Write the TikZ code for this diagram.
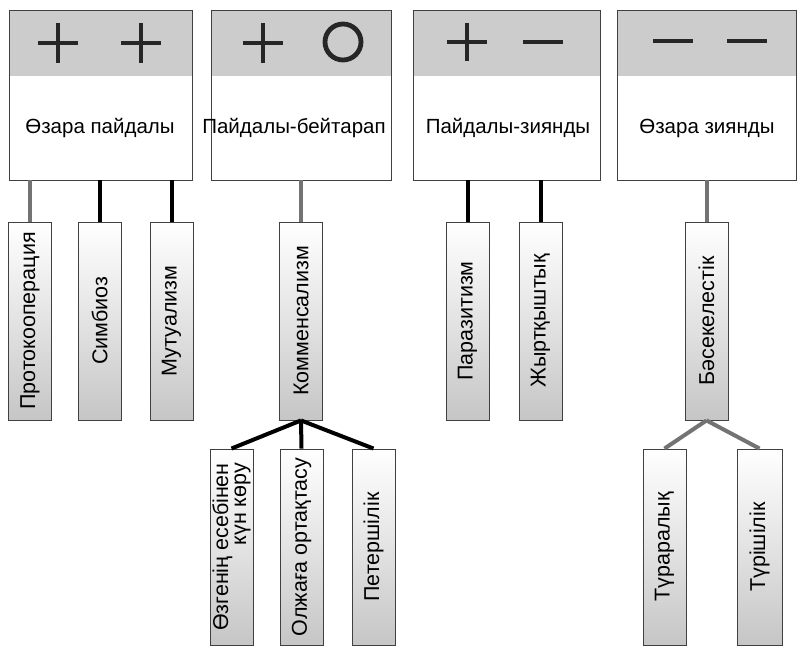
\documentclass[tikz,border=0pt]{standalone}
\usepackage{fontspec}
\setmainfont{Liberation Sans}
\usetikzlibrary{calc}
\begin{document}
\begin{tikzpicture}[x=1pt,y=1pt,
  topbox/.style={draw=black!75, line width=0.9pt, fill=white, minimum height=170pt, inner sep=0pt,
    path picture={\fill[gray!40] (path picture bounding box.north west) rectangle ([yshift=-66pt]path picture bounding box.north east);}},
  toplabel/.style={font=\fontsize{20.5}{22}\selectfont, inner sep=0pt},
  leafbox/.style={draw=black!75, line width=0.9pt, minimum width=43pt, minimum height=198pt, inner sep=0pt,
    top color=white, bottom color=gray!45, middle color=gray!22},
  subbox/.style={leafbox, minimum height=196pt},
  leaflabel/.style={rotate=90, font=\fontsize{21.5}{18}\selectfont, inner sep=0pt, align=right},
  signline/.style={line width=4.8pt, black!85},
  conb/.style={line width=4pt, black},
  cong/.style={line width=4pt, black!55}
]
\useasboundingbox (0,0) rectangle (801,647);
% top boxes
\node[topbox, minimum width=183pt] (t1) at (100.5,552) {};
\node[topbox, minimum width=180pt] (t2) at (301,552) {};
\node[topbox, minimum width=187pt] (t3) at (506.5,552) {};
\node[topbox, minimum width=179pt] (t4) at (706.5,552) {};
\node[toplabel] (tl1) at (100,519) {Өзара пайдалы};
\node[toplabel] (tl2) at (294,519) {Пайдалы-бейтарап};
\node[toplabel] (tl3) at (508,519) {Пайдалы-зиянды};
\node[toplabel] (tl4) at (707,519) {Өзара зиянды};
% signs
\draw[signline] (38,604) -- (78,604) (58,624) -- (58,584);
\draw[signline] (121,604) -- (161,604) (141,624) -- (141,584);
\draw[signline] (243,604) -- (283,604) (263,624) -- (263,584);
\draw[signline] (343,605) circle (18);
\draw[signline] (447,605) -- (487,605) (467,624) -- (467,586);
\draw[signline] (523,605) -- (563,605);
\draw[signline] (653,606) -- (693,606);
\draw[signline] (727,606) -- (767,606);
% leaves
\node[leafbox] (l1) at (30,326) {};
\node[leafbox] (l2) at (99.5,326) {};
\node[leafbox] (l3) at (171.5,326) {};
\node[leafbox] (l4) at (301,326) {};
\node[leafbox] (l5) at (467.5,326) {};
\node[leafbox] (l6) at (540.5,326) {};
\node[leafbox] (l7) at (706.5,326) {};
\node[leaflabel] at (l1.center) {Протокооперация};
\node[leaflabel] at (l2.center) {Симбиоз};
\node[leaflabel] at (l3.center) {Мутуализм};
\node[leaflabel] at (l4.center) {Комменсализм};
\node[leaflabel] at (l5.center) {Паразитизм};
\node[leaflabel] at (l6.center) {Жыртқыштық};
\node[leaflabel] at (l7.center) {Бәсекелестік};
% sub leaves
\node[subbox] (b1) at (231.5,100) {};
\node[subbox] (b2) at (301.5,100) {};
\node[subbox] (b3) at (373.5,100) {};
\node[subbox] (b4) at (664.5,100) {};
\node[subbox, minimum width=45pt] (b5) at (759.5,100) {};
\node[leaflabel] at (b1.center) {Өзгенің есебінен\\күн көру};
\node[leaflabel] at (b2.center) {Олжаға ортақтасу};
\node[leaflabel] at (b3.center) {Петершілік};
\node[leaflabel] at (b4.center) {Түраралық};
\node[leaflabel] at (b5.center) {Түрішілік};
% connectors
\draw[cong] (l1.north) -- (l1.north |- t1.south);
\draw[conb] (l2.north) -- (l2.north |- t1.south);
\draw[conb] (l3.north) -- (l3.north |- t1.south);
\draw[cong] (l4.north) -- (l4.north |- t2.south);
\draw[conb] (l5.north) -- (l5.north |- t3.south);
\draw[conb] (l6.north) -- (l6.north |- t3.south);
\draw[cong] (l7.north) -- (l7.north |- t4.south);
\draw[conb] (l4.south) -- (b1.north);
\draw[conb] (l4.south) -- (b2.north);
\draw[conb] (l4.south) -- (b3.north);
\draw[cong] (l7.south) -- (b4.north);
\draw[cong] (l7.south) -- (b5.north);
\end{tikzpicture}
\end{document}
